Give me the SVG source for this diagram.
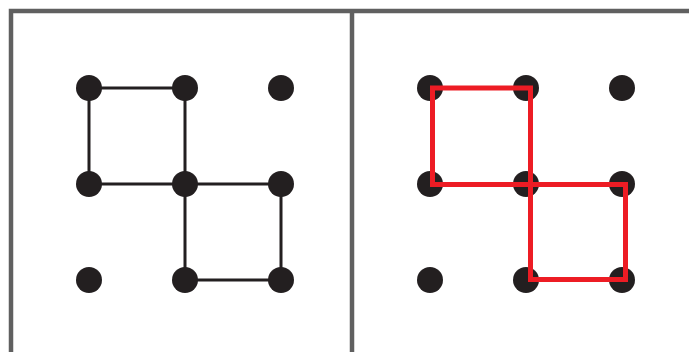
<svg xmlns="http://www.w3.org/2000/svg" width="689" height="352" viewBox="0 0 689 352">
<style>
.frame{fill:none;stroke:#606060;stroke-width:4.5}
.dot{fill:#231f20}
.blk{fill:none;stroke:#231f20;stroke-width:3}
.red{fill:none;stroke:#ed1c24;stroke-width:5}
</style>
<rect width="689" height="352" fill="#ffffff"/>
<g id="frame">
<polyline class="frame" points="11,352 11,11 689,11"/>
<line class="frame" x1="352" y1="11" x2="352" y2="352"/>
</g>
<g id="connectors">
<polyline class="blk" points="89,184 89,88 185,88 185,280 281,280 281,184 89,184"/>
</g>
<g id="left-dots">
<circle class="dot" cx="89" cy="88" r="13"/>
<circle class="dot" cx="185" cy="88" r="13"/>
<circle class="dot" cx="281" cy="88" r="13"/>
<circle class="dot" cx="89" cy="184" r="13"/>
<circle class="dot" cx="185" cy="184" r="13"/>
<circle class="dot" cx="281" cy="184" r="13"/>
<circle class="dot" cx="89" cy="280" r="13"/>
<circle class="dot" cx="185" cy="280" r="13"/>
<circle class="dot" cx="281" cy="280" r="13"/>
</g>
<g id="right-dots">
<circle class="dot" cx="430" cy="88" r="13"/>
<circle class="dot" cx="526" cy="88" r="13"/>
<circle class="dot" cx="622" cy="88" r="13"/>
<circle class="dot" cx="430" cy="184" r="13"/>
<circle class="dot" cx="526" cy="184" r="13"/>
<circle class="dot" cx="622" cy="184" r="13"/>
<circle class="dot" cx="430" cy="280" r="13"/>
<circle class="dot" cx="526" cy="280" r="13"/>
<circle class="dot" cx="622" cy="280" r="13"/>
</g>
<g id="red-squares">
<rect class="red" x="432.5" y="88" width="98" height="96.5"/>
<rect class="red" x="530.5" y="184.5" width="95" height="95"/>
</g>
</svg>
